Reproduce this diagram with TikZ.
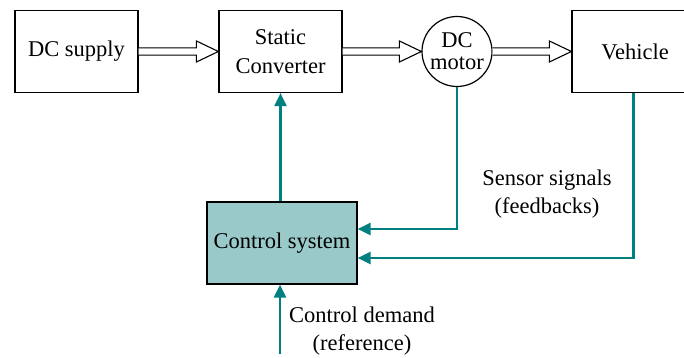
\documentclass[tikz,border=0pt]{standalone}
\usepackage{fontspec}
\setmainfont{Liberation Serif}
\usetikzlibrary{arrows.meta,calc}
\definecolor{tealline}{HTML}{008080}
\definecolor{tealfill}{HTML}{9AC9C9}
\newcommand{\hollowarrow}[2]{%
  \draw[fill=white, line width=1.1pt, line join=miter]
    ($(#1)+(0,-3.6)$) -- ($(#2)+(-22,-3.6)$) -- ($(#2)+(-22,-10.5)$) -- (#2)
    -- ($(#2)+(-22,10.5)$) -- ($(#2)+(-22,3.6)$) -- ($(#1)+(0,3.6)$);}
\begin{document}
\begin{tikzpicture}[x=1pt,y=-1pt,
  box/.style={draw, line width=1.2pt, minimum height=82pt, inner sep=0pt, align=center,
    font=\fontsize{22.5}{29}\selectfont},
  fb/.style={draw=tealline, line width=2.2pt},
  tip/.style={-{Triangle[length=13pt,width=12pt]}},
  lbl/.style={align=center, font=\fontsize{22.5}{27.5}\selectfont}]
\useasboundingbox (0,0) rectangle (684,358);
\clip (0,0) rectangle (684,358);
\node[box, minimum width=123pt] (dc) at (76.5,51.5) {DC supply};
\node[box, minimum width=123pt] (conv) at (280.5,51.5) {Static\\Converter};
\node[draw, circle, line width=1.2pt, minimum size=70pt, inner sep=0pt, align=center,
  font=\fontsize{22.5}{22}\selectfont] (motor) at (457,51.5) {DC\\motor};
\node[box, minimum width=126pt] (veh) at (635,51.5) {Vehicle};
\node[box, minimum width=150pt, fill=tealfill] (ctrl) at (282,243) {Control system};
\hollowarrow{dc.east}{conv.west}
\hollowarrow{conv.east}{motor.west}
\hollowarrow{motor.east}{veh.west}
\coordinate (in1) at ($(ctrl.east)+(0,-14)$);
\coordinate (in2) at ($(ctrl.east)+(0,15)$);
\coordinate (dem) at (280,354);
\draw[fb, tip] (conv.south |- ctrl.north) -- (conv.south);
\draw[fb, tip] (motor.south) |- (in1);
\draw[fb, tip] ($(veh.south)+(-1.5,0)$) |- (in2);
\draw[fb, tip] (dem) -- (dem |- ctrl.south);
\node[lbl] (sens) at (547,194) {Sensor signals\\(feedbacks)};
\node[lbl] (demand) at (362,331) {Control demand\\(reference)};
\end{tikzpicture}
\end{document}
